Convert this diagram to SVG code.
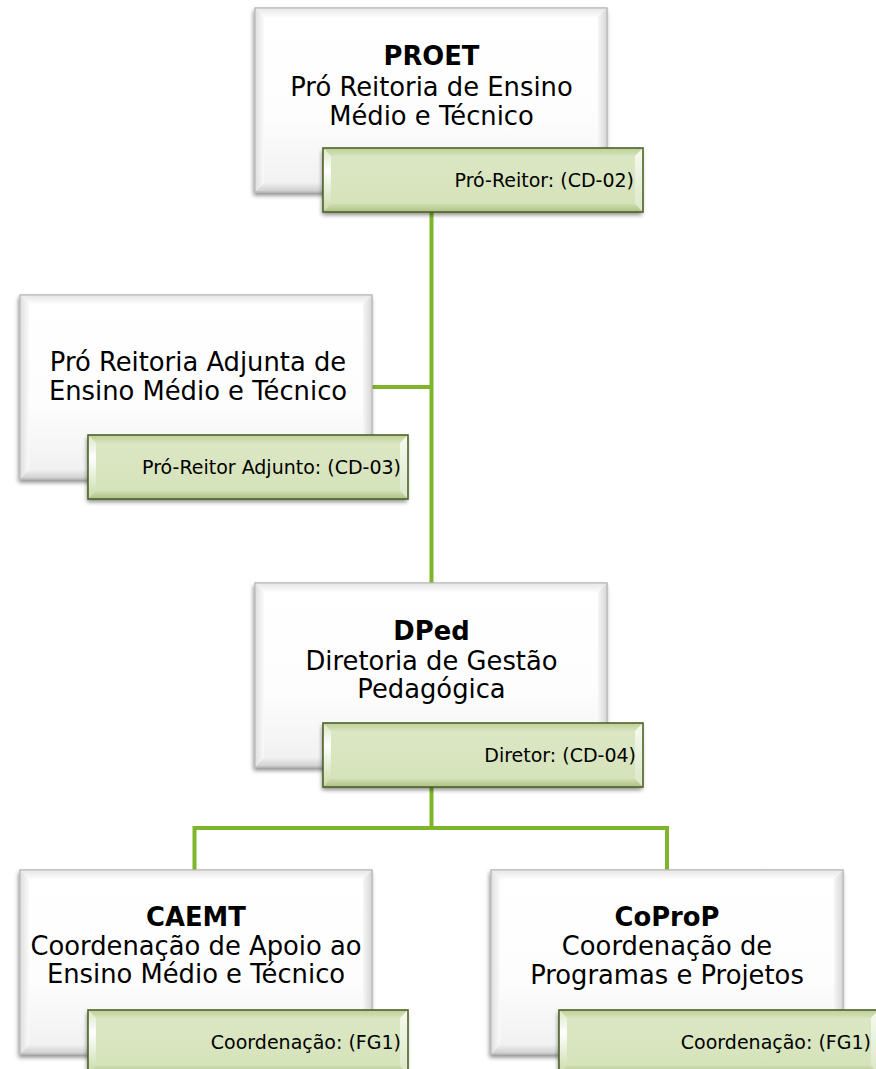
<svg xmlns="http://www.w3.org/2000/svg" xmlns:xlink="http://www.w3.org/1999/xlink" width="876" height="1069" viewBox="0 0 876 1069">
<style>
  .t { font-family: "DejaVu Sans", "Verdana", sans-serif; font-size: 25.8px; fill: #000; text-anchor: middle; }
  .b { font-weight: bold; }
  .g { font-family: "DejaVu Sans", "Verdana", sans-serif; font-size: 19px; fill: #000; text-anchor: end; }
  .conn { fill: none; stroke: #7fb52a; stroke-width: 4; }
</style>
<defs>
  <filter id="sh" x="-10%" y="-10%" width="120%" height="130%">
    <feDropShadow dx="-1" dy="3" stdDeviation="2" flood-color="#000" flood-opacity="0.45"/>
  </filter>
  <linearGradient id="wface" x1="0" y1="0" x2="0" y2="1">
    <stop offset="0" stop-color="#ffffff"/>
    <stop offset="0.6" stop-color="#fdfdfd"/>
    <stop offset="1" stop-color="#f0f0f0"/>
  </linearGradient>
  <linearGradient id="wTop" x1="0" y1="0" x2="0" y2="1">
    <stop offset="0" stop-color="#e6e6e6"/>
    <stop offset="1" stop-color="#fcfcfc"/>
  </linearGradient>
  <linearGradient id="wLeft" x1="0" y1="0" x2="1" y2="0">
    <stop offset="0" stop-color="#dedede"/>
    <stop offset="1" stop-color="#fafafa"/>
  </linearGradient>
  <linearGradient id="wRight" x1="1" y1="0" x2="0" y2="0">
    <stop offset="0" stop-color="#d6d6d6"/>
    <stop offset="1" stop-color="#f6f6f6"/>
  </linearGradient>
  <linearGradient id="wBot" x1="0" y1="1" x2="0" y2="0">
    <stop offset="0" stop-color="#cdcdcd"/>
    <stop offset="1" stop-color="#efefef"/>
  </linearGradient>
  <linearGradient id="gface" x1="0" y1="0" x2="0" y2="1">
    <stop offset="0" stop-color="#dce8c6"/>
    <stop offset="1" stop-color="#d4e2b8"/>
  </linearGradient>
  <linearGradient id="gTop" x1="0" y1="0" x2="0" y2="1">
    <stop offset="0" stop-color="#bdd096"/>
    <stop offset="1" stop-color="#d6e3bb"/>
  </linearGradient>
  <linearGradient id="gLeft" x1="0" y1="0" x2="0" y2="1">
    <stop offset="0" stop-color="#dbe7c5"/>
    <stop offset="0.35" stop-color="#ffffff"/>
    <stop offset="1" stop-color="#c9dba8"/>
  </linearGradient>
  <linearGradient id="gRight" x1="0" y1="0" x2="0" y2="1">
    <stop offset="0" stop-color="#f7faf0"/>
    <stop offset="1" stop-color="#dbe7c6"/>
  </linearGradient>
  <linearGradient id="gBot" x1="0" y1="1" x2="0" y2="0">
    <stop offset="0" stop-color="#aec384"/>
    <stop offset="1" stop-color="#cddcb0"/>
  </linearGradient>
  <g id="wbox">
    <rect x="0" y="0" width="352" height="184" fill="url(#wface)" stroke="#b5b5b5" stroke-width="1" filter="url(#sh)"/>
    <polygon points="0,0 352,0 343,9 9,9" fill="url(#wTop)"/>
    <polygon points="0,0 9,9 9,175 0,184" fill="url(#wLeft)"/>
    <polygon points="352,0 352,184 343,175 343,9" fill="url(#wRight)"/>
    <polygon points="0,184 352,184 343,175 9,175" fill="url(#wBot)"/>
    <rect x="0" y="0" width="352" height="184" fill="none" stroke="#b5b5b5" stroke-width="1"/>
  </g>
  <g id="gbox">
    <rect x="0" y="0" width="320" height="64" fill="url(#gface)" filter="url(#sh)"/>
    <polygon points="0,0 320,0 312,8 8,8" fill="url(#gTop)"/>
    <polygon points="0,0 8,8 8,56 0,64" fill="url(#gLeft)"/>
    <polygon points="320,0 320,64 312,56 312,8" fill="url(#gRight)"/>
    <polygon points="0,64 320,64 312,56 8,56" fill="url(#gBot)"/>
    <rect x="0" y="0" width="320" height="64" fill="none" stroke="#4f6228" stroke-width="1.6"/>
  </g>
</defs>

<g id="connectors">
  <path class="conn" d="M431.5,212 V583"/>
  <path class="conn" d="M372,387 H431.5"/>
  <path class="conn" d="M431.5,786 V828"/>
  <path class="conn" d="M194.5,870 V828 H667 V870"/>
</g>

<g id="node-proet">
  <use xlink:href="#wbox" href="#wbox" x="255" y="8"/>
  <text class="t b" x="431.5" y="65">PROET</text>
  <text class="t" x="431.5" y="96">Pró Reitoria de Ensino</text>
  <text class="t" x="431.5" y="125">Médio e Técnico</text>
  <use xlink:href="#gbox" href="#gbox" x="323" y="148"/>
  <text class="g" x="634" y="187">Pró-Reitor: (CD-02)</text>
</g>

<g id="node-adjunta">
  <use xlink:href="#wbox" href="#wbox" x="20" y="295"/>
  <text class="t" x="198" y="371">Pró Reitoria Adjunta de</text>
  <text class="t" x="198" y="400">Ensino Médio e Técnico</text>
  <use xlink:href="#gbox" href="#gbox" x="88" y="435"/>
  <text class="g" x="401" y="474">Pró-Reitor Adjunto: (CD-03)</text>
</g>

<g id="node-dped">
  <use xlink:href="#wbox" href="#wbox" x="255" y="583"/>
  <text class="t b" x="431.5" y="640">DPed</text>
  <text class="t" x="431.5" y="670">Diretoria de Gestão</text>
  <text class="t" x="431.5" y="698">Pedagógica</text>
  <use xlink:href="#gbox" href="#gbox" x="323" y="723"/>
  <text class="g" x="636" y="762">Diretor: (CD-04)</text>
</g>

<g id="node-caemt">
  <use xlink:href="#wbox" href="#wbox" x="20" y="870"/>
  <text class="t b" x="196" y="926">CAEMT</text>
  <text class="t" x="196" y="955">Coordenação de Apoio ao</text>
  <text class="t" x="196" y="983">Ensino Médio e Técnico</text>
  <use xlink:href="#gbox" href="#gbox" x="88" y="1010"/>
  <text class="g" x="401" y="1049">Coordenação: (FG1)</text>
</g>

<g id="node-coprop">
  <use xlink:href="#wbox" href="#wbox" x="491" y="870"/>
  <text class="t b" x="667" y="926">CoProP</text>
  <text class="t" x="667" y="955">Coordenação de</text>
  <text class="t" x="667" y="984">Programas e Projetos</text>
  <use xlink:href="#gbox" href="#gbox" x="559" y="1010"/>
  <text class="g" x="871" y="1049">Coordenação: (FG1)</text>
</g>
</svg>
